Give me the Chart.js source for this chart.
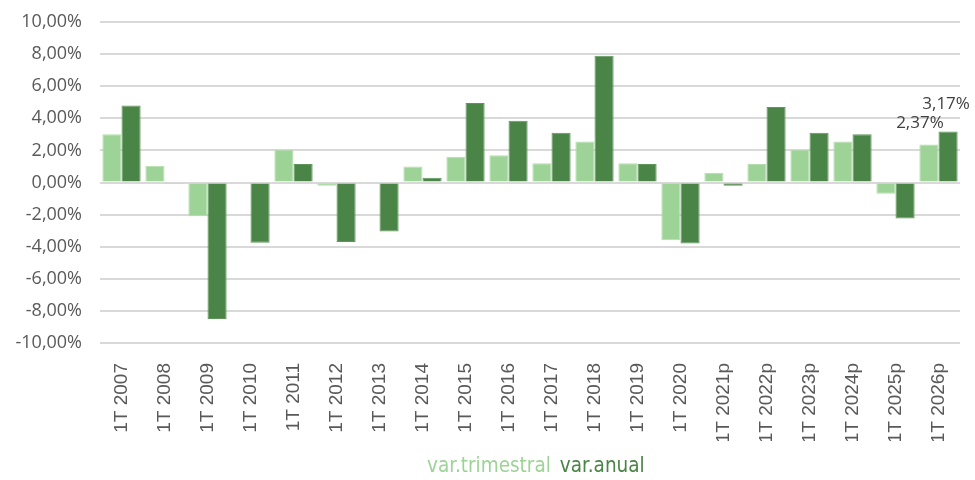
<!DOCTYPE html>
<html>
<head>
<meta charset="utf-8">
<script src="https://cdn.jsdelivr.net/npm/chart.js@4/dist/chart.umd.min.js"></script>
<style>
  html, body { margin: 0; padding: 0; background: #fff; }
  #wrap { width: 975px; height: 480px; }
</style>
</head>
<body>
<div id="wrap"><canvas id="myChart" width="975" height="480"></canvas></div>
<script>
const categories = ['1T 2007', '1T 2008', '1T 2009', '1T 2010', '1T 2011', '1T 2012', '1T 2013',
  '1T 2014', '1T 2015', '1T 2016', '1T 2017', '1T 2018', '1T 2019', '1T 2020', '1T 2021p',
  '1T 2022p', '1T 2023p', '1T 2024p', '1T 2025p', '1T 2026p'];

// values in %
const varTrimestral = [3.0, 1.05, -2.1, 0.0, 2.05, -0.2, 0.0, 1.0, 1.6, 1.7, 1.2, 2.55, 1.2, -3.6, 0.6, 1.15, 2.05, 2.55, -0.7, 2.37];
const varAnual = [4.8, -0.05, -8.5, -3.75, 1.15, -3.7, -3.05, 0.3, 4.95, 3.85, 3.1, 7.9, 1.15, -3.8, -0.2, 4.7, 3.1, 3.0, -2.25, 3.17];

const yTicks = [-10, -8, -6, -4, -2, 0, 2, 4, 6, 8, 10];
const seriesNames = ['var.trimestral', 'var.anual'];

const lightGreen = '#9dd396';
const darkGreen = '#4a8446';

function pct(v) {
  return v.toFixed(2).replace('.', ',') + '%';
}

// draws the two labels on the last pair of bars
const lastLabels = {
  id: 'lastLabels',
  afterDatasetsDraw(chart) {
    const ctx = chart.ctx;
    const n = categories.length - 1;
    const light = chart.getDatasetMeta(0).data[n];
    const dark = chart.getDatasetMeta(1).data[n];
    ctx.save();
    ctx.font = '17px "Open Sans", sans-serif';
    ctx.fillStyle = '#404040';
    ctx.textAlign = 'center';
    ctx.textBaseline = 'middle';
    ctx.fillText(pct(varTrimestral[n]), light.x - 9, light.y - 21);
    ctx.fillText(pct(varAnual[n]), dark.x - 2, dark.y - 27);
    ctx.restore();
  }
};

// legend drawn as coloured text only, placed like the original
const textLegend = {
  id: 'textLegend',
  afterDraw(chart) {
    const ctx = chart.ctx;
    ctx.save();
    ctx.font = '20.5px "DejaVu Sans Condensed", "Open Sans", sans-serif';
    ctx.textBaseline = 'middle';
    ctx.textAlign = 'left';
    let x = 427;
    const y = 467;
    seriesNames.forEach((name, i) => {
      ctx.fillStyle = i === 0 ? lightGreen : darkGreen;
      ctx.fillText(name, x, y);
      x += ctx.measureText(name).width + 9;
    });
    ctx.restore();
  }
};

var ctx = document.getElementById('myChart');

new Chart(ctx, {
  type: 'bar',
  data: {
    labels: categories,
    datasets: [
      {
        label: seriesNames[0],
        data: varTrimestral,
        backgroundColor: lightGreen,
        borderColor: '#b3ddad',
        borderWidth: 1
      },
      {
        label: seriesNames[1],
        data: varAnual,
        backgroundColor: darkGreen,
        borderColor: '#5f955b',
        borderWidth: 1
      }
    ]
  },
  options: {
    responsive: false,
    animation: false,
    layout: {
      padding: { top: 22, right: 15, left: 0, bottom: 39 }
    },
    datasets: {
      bar: {
        categoryPercentage: 0.89,
        barPercentage: 1.0
      }
    },
    scales: {
      x: {
        grid: { display: false },
        border: { display: false },
        ticks: {
          color: '#595959',
          font: { family: '"Liberation Sans", Arial, sans-serif', size: 19 },
          minRotation: 90,
          maxRotation: 90,
          padding: 12,
          autoSkip: false
        },
        afterFit: function (scale) { scale.height = 98; }
      },
      y: {
        min: -10,
        max: 10,
        afterBuildTicks: function (scale) {
          scale.ticks = yTicks.map(v => ({ value: v }));
        },
        afterFit: function (scale) {
          scale.width = 100;
          // don't let the tick padding push the plot area down
          scale.paddingTop = 0;
          scale.paddingBottom = 0;
        },
        grid: {
          color: '#d9d9d9',
          lineWidth: 2,
          drawTicks: false
        },
        border: { display: false },
        ticks: {
          color: '#595959',
          font: { family: '"Open Sans", sans-serif', size: 18 },
          padding: 18,
          callback: function (v) { return pct(v); }
        }
      }
    },
    plugins: {
      legend: { display: false },
      tooltip: { enabled: false }
    }
  },
  plugins: [lastLabels, textLegend]
});
</script>
</body>
</html>
